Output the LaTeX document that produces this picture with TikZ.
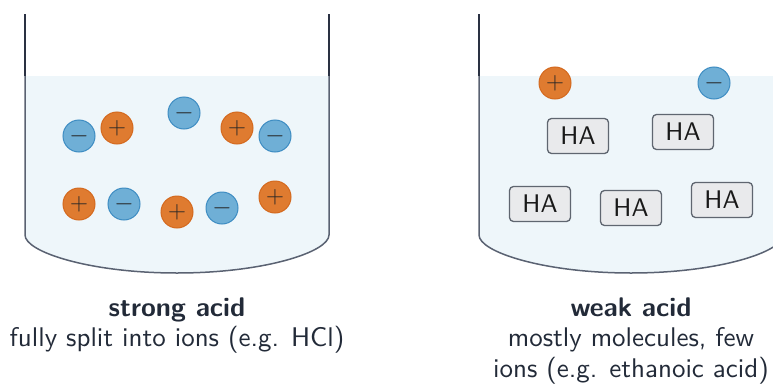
\documentclass[tikz,border=0pt]{standalone}
\usepackage{tikz}
\usepackage{graphicx}
\definecolor{water}{HTML}{EEF6FA}
\definecolor{wallTop}{HTML}{2A3142}
\definecolor{wallLow}{HTML}{5A6272}
\definecolor{plusFill}{HTML}{DF7B30}
\definecolor{plusLine}{HTML}{D4691E}
\definecolor{minusFill}{HTML}{6FAFD6}
\definecolor{minusLine}{HTML}{3D8CC2}
\definecolor{boxFill}{HTML}{E9EAEC}
\definecolor{boxLine}{HTML}{5F6670}
\definecolor{txt}{HTML}{222A38}
\newcommand{\capt}[1]{\scalebox{2.7}{\sffamily\fontsize{10}{11.3}\selectfont
  \setlength{\tabcolsep}{0pt}\begin{tabular}[t]{c}#1\end{tabular}}}
\newcommand{\hatext}{\scalebox{2.55}{\sffamily\fontsize{10}{10}\selectfont HA}}
\tikzset{
  ion/.style={circle, minimum size=32pt, inner sep=0pt, line width=1pt,
    font=\fontsize{25}{25}\selectfont, text=black!85},
  pion/.style={ion, fill=plusFill, draw=plusLine},
  nion/.style={ion, fill=minusFill, draw=minusLine},
  mol/.style={rectangle, rounded corners=4pt, minimum width=61pt, minimum height=35pt,
    inner sep=0pt, fill=boxFill, draw=boxLine, line width=1.3pt, text=black!90},
  upperwall/.style={draw=wallTop, line width=2.5pt},
  lowerwall/.style={draw=wallLow, line width=1.5pt},
  caption/.style={anchor=base, inner sep=0pt, text=txt}
}
\begin{document}
\begin{tikzpicture}[x=1pt, y=-1pt]
\useasboundingbox (0,0) rectangle (773,388);
\clip (0,0) rectangle (773,388);
% ---------- left beaker ----------
\fill[water] (25,76) -- (25,235) .. controls (25,252) and (90,273) .. (177,273)
  .. controls (264,273) and (329,252) .. (329,235) -- (329,76) -- cycle;
\draw[lowerwall] (25,76) -- (25,235) .. controls (25,252) and (90,273) .. (177,273)
  .. controls (264,273) and (329,252) .. (329,235) -- (329,76);
\draw[upperwall] (25,14) -- (25,76);
\draw[upperwall] (329,14) -- (329,76);
% ions
\node[nion] (l1) at (79,136) {$-$};
\node[pion] (l2) at (117,128) {$+$};
\node[nion] (l3) at (184,113) {$-$};
\node[pion] (l4) at (237,128) {$+$};
\node[nion] (l5) at (275,136) {$-$};
\node[pion] (l6) at (79,204) {$+$};
\node[nion] (l7) at (124,204) {$-$};
\node[pion] (l8) at (177,212) {$+$};
\node[nion] (l9) at (222,208) {$-$};
\node[pion] (l10) at (275,197) {$+$};
% ---------- right beaker ----------
\fill[water] (479,76) -- (479,235) .. controls (479,252) and (544,273) .. (631,273)
  .. controls (718,273) and (783,252) .. (783,235) -- (783,76) -- cycle;
\draw[lowerwall] (479,76) -- (479,235) .. controls (479,252) and (544,273) .. (631,273)
  .. controls (718,273) and (783,252) .. (783,235) -- (783,76);
\draw[upperwall] (479,14) -- (479,76);
\draw[upperwall] (783,14) -- (783,76);
\node[pion] (r1) at (555,83) {$+$};
\node[nion] (r2) at (714,83) {$-$};
\node[mol] (m1) at (578,136) {\hatext};
\node[mol] (m2) at (683,132) {\hatext};
\node[mol] (m3) at (540,204) {\hatext};
\node[mol] (m4) at (631,208) {\hatext};
\node[mol] (m5) at (722,200) {\hatext};
% ---------- captions ----------
\node[caption] (capL) at (177,316) {\capt{\textbf{strong acid}\\fully split into ions (e.g. HCl)}};
\node[caption] (capR) at (631,316) {\capt{\textbf{weak acid}\\mostly molecules, few\\ions (e.g. ethanoic acid)}};
\end{tikzpicture}
\end{document}
